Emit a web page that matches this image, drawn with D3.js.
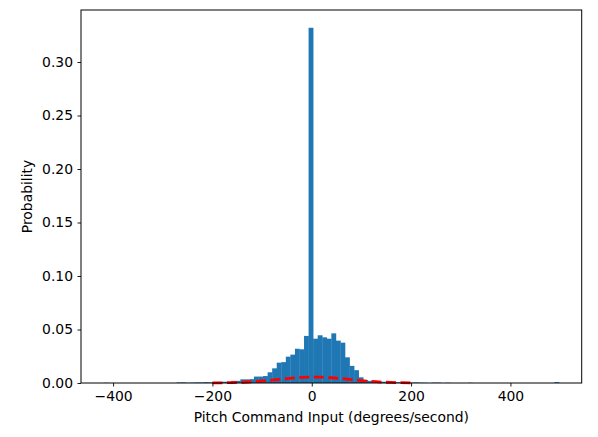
<!DOCTYPE html>
<html>
<head>
<meta charset="utf-8">
<script src="https://cdn.jsdelivr.net/npm/d3@7"></script>
<style>
body { margin: 0; background: #fff; }
text { font-family: "DejaVu Sans", sans-serif; fill: #000; }
</style>
</head>
<body>
<script>
// histogram bins: 100 equal bins starting at binStart
var binStart = -418.8,
    binWidth = 9.165;
var probs = [
    0.0002, 0, 0, 0, 0, 0, 0, 0, 0, 0,
    0, 0, 0, 0, 0, 0, 0.0005, 0.0005, 0.0002, 0.0003,
    0.0005, 0.0005, 0.0007, 0.0005, 0.0008, 0.001, 0.0012, 0.001, 0.002, 0.002,
    0.0034, 0.0034, 0.0036, 0.006, 0.006, 0.0065, 0.010, 0.0137, 0.019, 0.0195,
    0.0246, 0.0265, 0.032, 0.0315, 0.044, 0.332, 0.0414, 0.0446, 0.0427, 0.0414,
    0.0464, 0.0396, 0.0377, 0.024, 0.016, 0.012, 0.0053, 0.0028, 0.002, 0.0018,
    0.0012, 0.0012, 0.001, 0.0008, 0.0008, 0.0005, 0.0004, 0.0003, 0.0005, 0.0003,
    0.0002, 0, 0.0003, 0.0003, 0, 0.0002, 0, 0, 0, 0,
    0.0002, 0, 0, 0, 0, 0, 0, 0, 0, 0,
    0, 0, 0, 0, 0, 0, 0, 0, 0, 0.0008
];

// red dashed fitted curve
var curveX = [-200, -180, -160, -140, -120, -100, -80, -60, -40, -20, 0, 20, 40, 60, 80, 100, 120, 140, 160, 180, 200];
var curveY = [0.0001, 0.0002, 0.0004, 0.0007, 0.0012, 0.0019, 0.0027, 0.0037, 0.0045, 0.0052, 0.0055,
              0.0054, 0.0049, 0.0041, 0.0032, 0.0023, 0.0015, 0.0009, 0.0005, 0.0003, 0.00014];

var xTicks = [-400, -200, 0, 200, 400];
var yTicks = [0, 0.05, 0.10, 0.15, 0.20, 0.25, 0.30];

var width = 598, height = 437,
    margin = {top: 10, right: 16.3, bottom: 54, left: 81};

var svg = d3.select("body").append("svg")
    .attr("width", width)
    .attr("height", height);

var x = d3.scaleLinear().domain([-464.6, 543.5]).range([margin.left, width - margin.right]);
var y = d3.scaleLinear().domain([0, 0.3486]).range([height - margin.bottom, margin.top]);

var bins = probs.map(function (p, i) {
    return {x0: binStart + i * binWidth, x1: binStart + (i + 1) * binWidth, p: p};
});

svg.append("g")
    .selectAll("rect")
    .data(bins.filter(function (d) { return d.p > 0; }))
    .enter().append("rect")
    .attr("x", function (d) { return x(d.x0); })
    .attr("width", function (d) { return x(d.x1) - x(d.x0) + 0.3; })
    .attr("y", function (d) { return y(d.p); })
    .attr("height", function (d) { return y(0) - y(d.p); })
    .attr("fill", "#1f77b4");

var line = d3.line()
    .x(function (d, i) { return x(curveX[i]); })
    .y(function (d) { return y(d); })
    .curve(d3.curveMonotoneX);

svg.append("path")
    .attr("d", line(curveY))
    .attr("fill", "none")
    .attr("stroke", "#ff0000")
    .attr("stroke-width", 2.8)
    .attr("stroke-dasharray", "10,4.5");

// axes
var fmtX = function (d) { return d < 0 ? "\u2212" + Math.abs(d) : String(d); };

var gx = svg.append("g")
    .attr("transform", "translate(0," + (height - margin.bottom) + ")")
    .call(d3.axisBottom(x).tickValues(xTicks).tickFormat(fmtX).tickSize(3.5).tickPadding(4.5));
var gy = svg.append("g")
    .attr("transform", "translate(" + margin.left + ",0)")
    .call(d3.axisLeft(y).tickValues(yTicks).tickFormat(d3.format(".2f")).tickSize(3.5).tickPadding(4.5));

[gx, gy].forEach(function (g) {
    g.select(".domain").remove();
    g.selectAll("line").attr("stroke", "#000").attr("stroke-width", 0.9);
    g.selectAll("text").style("font-size", "13.9px").style("font-family", "DejaVu Sans");
});

svg.append("rect")
    .attr("x", margin.left)
    .attr("y", margin.top)
    .attr("width", width - margin.left - margin.right)
    .attr("height", height - margin.top - margin.bottom)
    .attr("fill", "none")
    .attr("stroke", "#000")
    .attr("stroke-width", 1);

svg.append("text")
    .attr("x", (margin.left + width - margin.right) / 2)
    .attr("y", 422)
    .attr("text-anchor", "middle")
    .style("font-size", "13.9px")
    .text("Pitch Command Input (degrees/second)");

svg.append("text")
    .attr("transform", "translate(32," + ((margin.top + height - margin.bottom) / 2) + ") rotate(-90)")
    .attr("text-anchor", "middle")
    .style("font-size", "13.9px")
    .text("Probability");
</script>
</body>
</html>
